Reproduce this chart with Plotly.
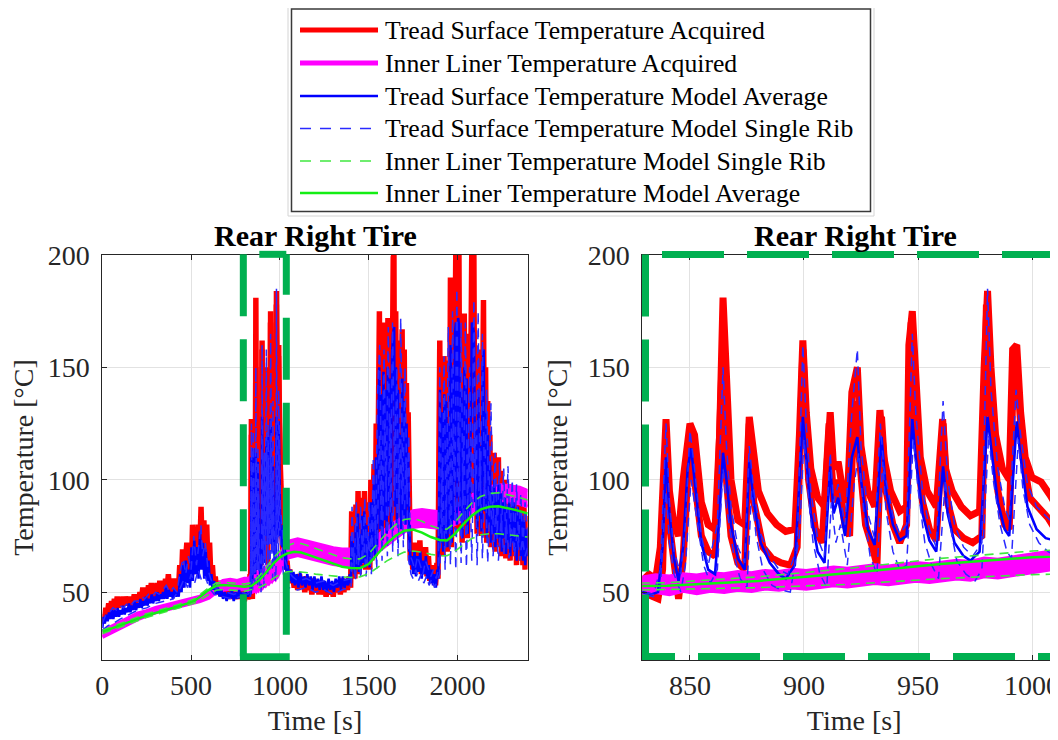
import plotly.graph_objects as go

# ---------------- data ----------------
# Tread surface temperature acquired, channel A: (time s, temperature degC)
tread_acq_a = [
    (0,36),(5,40),(12,38),(20,43),(28,40),(36,45),(44,41),(52,46),(60,42),(68,47),(76,43),(84,48),(92,43),(100,47),
    (108,44),(116,48),(124,44),(132,48),(140,45),(148,47),(156,44),(164,48),(172,45),(180,49),(188,45),(196,48),
    (204,46),(212,50),(220,46),(228,52),(236,47),(244,51),(252,47),(260,53),(268,48),(276,54),(284,49),(292,52),
    (300,48),(308,54),(316,49),(324,55),(332,50),(340,53),(348,49),(356,56),(364,51),(372,58),(380,50),(388,55),
    (396,50),(404,56),(412,51),(420,54),(428,50),(436,62),(444,52),(452,69),(460,56),(468,66),(476,72),(484,58),
    (492,68),(500,55),(508,80),(516,62),(524,75),(532,58),(540,80),(548,66),(556,88),(564,64),(572,82),(580,60),
    (588,80),(596,58),(604,72),(612,55),(620,62),(628,52),(636,57),(644,50),(652,55),
    (660,49),(670,53),(680,48),(690,54),(700,49),(710,52),(720,47),(730,53),(740,48),(750,51),(760,47),(770,52),
    (780,48),(790,50),(800,46),(810,51),(820,47),(828,50),
    (829.1,55),(832,58),(835,56),(837,70),(839.5,127),(841,95),(843,80),(845,75),(847,100),(850,125),(852,120),
    (855,90),(858,80),(861,78),(863,120),(864.5,181),(866,140),(868,100),(871,82),(874,80),(876,128),(878,110),
    (880,95),(884,85),(888,80),(892,77),(896,78),(898,120),(899.5,162),(901,130),(903,105),(906,92),(909,88),
    (911.5,130),(913,105),(915,108),(917,95),(919,90),(921,139),(923.4,150),(925,115),(928,95),(931,88),
    (933.3,131),(935,110),(938,95),(942,86),(945,88),(946,160),(947.5,175),(949,140),(951,110),(954,95),(958,88),
    (960.8,127),(962,105),(965,95),(969,88),(973,84),(977,86),(979,150),(980.5,184),(982,150),(984,120),(987,105),
    (990,100),(991.5,158),(993.3,160),(995,130),(997,110),(1000,101),(1004,99),(1008,93),(1012,86),
    (1016,82),(1020,70),(1024,76),(1028,64),(1032,70),(1036,60),(1040,64),(1048,56),(1056,60),(1064,54),(1072,58),
    (1080,52),(1090,57),(1100,51),(1110,58),(1120,52),(1130,56),(1140,50),(1150,57),(1160,51),(1170,55),(1180,49),
    (1190,56),(1200,50),(1210,54),(1220,49),(1230,55),(1240,49),(1250,53),(1260,48),(1270,54),(1280,49),(1290,53),
    (1300,48),(1310,54),(1320,50),(1330,55),(1340,49),(1350,56),(1360,50),(1370,55),(1380,51),(1390,57),(1398,52),
    (1404,86),(1410,58),(1416,80),(1422,56),(1428,89),(1434,60),(1440,95),(1446,58),(1452,84),(1458,61),(1464,92),
    (1470,62),(1476,95),(1482,60),(1488,90),(1494,63),(1500,82),(1506,60),(1512,100),(1518,64),(1524,92),(1530,107),
    (1536,66),(1542,125),(1548,70),(1554,150),(1560,175),(1566,80),(1572,160),(1578,72),(1584,170),(1590,85),
    (1596,165),(1602,75),(1608,172),(1614,90),(1620,168),(1626,78),(1632,180),(1638,199),(1642,200),(1646,90),
    (1652,175),(1658,80),(1664,162),(1670,95),(1676,140),(1682,78),(1688,167),(1694,85),(1700,158),(1706,82),
    (1712,143),(1718,90),(1722,130),(1726,70),(1730,95),(1734,64),
    (1740,70),(1748,60),(1756,72),(1764,59),(1772,70),(1780,61),(1788,73),(1796,58),(1804,68),(1812,60),(1820,70),
    (1828,57),(1836,66),(1844,55),(1852,62),(1860,54),(1868,60),(1876,53),(1884,63),(1890,56),
    (1896,120),(1900,162),(1906,70),(1912,150),(1918,66),(1924,155),(1930,72),(1936,153),(1942,68),(1948,140),
    (1954,75),(1960,190),(1966,70),(1972,175),(1978,80),(1984,195),(1990,200),(1996,78),(2002,200),(2008,200),
    (2014,85),(2020,160),(2026,72),(2032,150),(2038,174),(2044,80),(2050,165),(2056,74),(2062,130),(2068,85),
    (2074,170),(2080,200),(2086,200),(2092,200),(2098,90),(2104,140),(2110,76),(2116,158),(2122,82),(2128,130),
    (2134,75),(2140,170),(2146,180),(2152,85),(2158,150),(2164,72),(2170,135),(2176,78),(2182,120),(2188,70),
    (2194,105),(2200,75),(2206,112),(2212,68),(2218,100),(2224,72),(2230,110),(2236,70),(2242,104),(2248,66),
    (2254,98),(2260,72),(2266,100),(2272,65),(2278,96),(2284,70),(2290,98),(2296,64),(2302,95),(2308,70),
    (2314,97),(2320,66),(2326,94),(2332,62),(2338,96),(2344,68),(2350,92),(2356,64),(2362,90),(2368,62),
    (2374,88),(2380,60),(2386,84),(2392,64),(2395,78),
]

# Tread surface temperature acquired, channel B (visible in the zoom window)
tread_acq_b = [
    (815,47),(822,49),(829.1,50),(833,48),(836,47),(838,60),(839.5,120),(841,80),(843,60),(845,47),(847,65),(850,120),
    (852,100),(855,75),(858,68),(861,66),(862,90),(864,150),(866,100),(868,75),(871,63),(874,60),(876,125),(878,90),
    (882,70),(886,65),(890,63),(894,62),(897,70),(899.5,158),(902,100),(905,78),(908,72),(911,125),(913,90),
    (915,100),(918,80),(920,75),(922,135),(924,110),(927,80),(930,70),(932,62),(934,128),(936,95),(939,80),(942,72),
    (945,80),(947,170),(949,120),(952,90),(955,78),(958,73),(961,125),(963,90),(966,78),(970,74),(974,72),(978,75),
    (980,178),(982,130),(985,95),(988,80),(990,78),(992,155),(994,140),(996,110),(999,92),(1003,88),(1007,83),
    (1012,75),(1016,68),(1020,62),
]

# Tread surface temperature, model average
tread_model_avg = [
    (0,34),(6,39),(14,36),(22,40),(30,37),(38,41),(46,38),(54,42),(62,38),(70,42),(78,39),(86,43),(94,39),(102,42),
    (110,40),(118,44),(126,40),(134,43),(142,41),(150,45),(158,41),(166,44),(174,42),(182,46),(190,42),(198,45),
    (206,43),(214,47),(222,43),(230,46),(238,44),(246,48),(254,44),(262,47),(270,45),(278,49),(286,45),(294,48),
    (302,46),(310,50),(318,46),(326,49),(334,47),(342,50),(350,47),(358,52),(366,47),(374,51),(382,48),(390,50),
    (398,47),(406,51),(414,48),(422,50),(430,48),(438,58),(446,50),(454,62),(462,52),(470,64),(478,54),(486,60),
    (494,52),(502,70),(510,55),(518,73),(526,58),(534,70),(542,56),(550,77),(558,60),(566,72),(574,56),(582,69),
    (590,55),(598,64),(606,53),(614,58),(622,51),(630,55),(640,49),(650,52),
    (660,48),(670,51),(680,47),(690,50),(700,46),(710,50),(720,47),(730,51),(740,46),(750,50),(760,47),(770,51),
    (780,47),(790,50),(800,46),(810,50),(820,48),
    (829.1,50),(833,49),(836,50),(838,70),(839.5,110),(841,85),(843,65),(845,55),(847,70),(849,105),(850.5,114),
    (852,100),(855,72),(858,60),(861,58),(863,85),(864.5,112),(866,100),(868,80),(871,65),(874,60),(876,108),
    (878,90),(881,72),(885,63),(889,58),(892,56),(896,62),(898,100),(899.5,128),(901,110),(903,85),(906,68),
    (909,63),(911.5,106),(913,85),(915,92),(918,75),(921,110),(923.4,119),(925,100),(928,78),(931,71),(934,119),
    (936,95),(939,80),(942,73),(945,75),(947.5,127),(949,110),(952,85),(955,73),(958,68),(961,106),(963,85),
    (966,72),(970,66),(973,64),(977,68),(980.5,128),(982,115),(985,90),(988,78),(990,75),(993.3,126),(995,110),
    (998,88),(1002,78),(1006,74),(1010,73),(1014,70),
    (1018,80),(1022,66),(1026,74),(1030,60),(1034,68),(1038,58),(1044,62),(1052,55),(1060,60),(1068,54),(1076,59),
    (1084,53),(1094,58),(1104,52),(1114,59),(1124,53),(1134,57),(1144,52),(1154,58),(1164,53),(1174,57),(1184,51),
    (1194,57),(1204,52),(1214,56),(1224,51),(1234,57),(1244,51),(1254,55),(1264,50),(1274,56),(1284,51),(1294,55),
    (1304,50),(1314,56),(1324,52),(1334,57),(1344,51),(1354,57),(1364,52),(1374,56),(1384,53),(1394,58),(1400,54),
    (1403,75),(1409,60),(1415,72),(1421,58),(1427,80),(1433,61),(1439,85),(1445,59),(1451,76),(1457,62),(1463,84),
    (1469,63),(1475,86),(1481,61),(1487,80),(1493,64),(1499,75),(1505,61),(1511,90),(1517,65),(1523,84),(1529,98),
    (1535,66),(1541,110),(1547,70),(1553,125),(1559,150),(1565,78),(1571,138),(1577,73),(1583,148),(1589,82),
    (1595,140),(1601,76),(1607,150),(1613,88),(1619,145),(1625,78),(1631,155),(1637,165),(1643,168),(1647,88),
    (1653,150),(1659,80),(1665,140),(1671,92),(1677,120),(1683,78),(1689,145),(1695,84),(1701,135),(1707,80),
    (1713,125),(1719,88),(1723,110),(1727,68),(1731,80),(1735,62),
    (1742,66),(1750,58),(1758,68),(1766,57),(1774,66),(1782,59),(1790,68),(1798,56),(1806,64),(1814,58),(1822,66),
    (1830,56),(1838,62),(1846,54),(1854,60),(1862,53),(1870,58),(1878,52),(1886,60),(1892,56),
    (1897,110),(1901,140),(1907,72),(1913,130),(1919,68),(1925,138),(1931,74),(1937,135),(1943,70),(1949,125),
    (1955,77),(1961,160),(1967,72),(1973,150),(1979,82),(1985,165),(1991,170),(1997,80),(2003,172),(2009,168),
    (2015,86),(2021,140),(2027,74),(2033,132),(2039,150),(2045,82),(2051,145),(2057,76),(2063,115),(2069,86),
    (2075,148),(2081,170),(2087,168),(2093,165),(2099,90),(2105,122),(2111,78),(2117,140),(2123,84),(2129,115),
    (2135,77),(2141,150),(2147,158),(2153,86),(2159,130),(2165,74),(2171,120),(2177,80),(2183,108),(2189,72),
    (2195,95),(2201,76),(2207,100),(2213,70),(2219,92),(2225,74),(2231,98),(2237,72),(2243,94),(2249,68),
    (2255,90),(2261,74),(2267,92),(2273,67),(2279,88),(2285,72),(2291,90),(2297,66),(2303,88),(2309,72),
    (2315,90),(2321,68),(2327,86),(2333,64),(2339,88),(2345,70),(2351,85),(2357,66),(2363,84),(2369,64),
    (2375,82),(2381,62),(2387,78),(2393,66),(2395,72),
]

# Tread surface temperature, model single rib (hotter rib)
tread_model_rib_hi = [
    (0,36),(20,40),(40,41),(60,43),(80,42),(100,44),(120,43),(140,45),(160,44),(180,46),(200,46),(220,48),(240,47),
    (260,49),(280,48),(300,50),(320,49),(340,51),(360,53),(380,50),(400,52),(420,50),(440,60),(455,65),(470,58),
    (485,66),(500,60),(515,75),(530,62),(545,72),(555,80),(565,66),(580,72),(595,60),(610,56),(630,52),(660,51),
    (700,50),(740,49),(780,50),(820,49),
    (829.1,50),(834,49),(837,60),(839.5,125),(841,90),(843,68),(846,58),(848,80),(850,122),(852,105),(855,75),
    (858,62),(862,80),(864.5,150),(866,115),(868,88),(871,70),(874,63),(876,115),(878,95),(881,76),(885,66),
    (889,60),(893,58),(897,70),(899.5,160),(901,125),(903,95),(906,74),(909,66),(911.5,112),(913,90),(915,98),
    (918,80),(921,130),(923.4,158),(925,115),(928,85),(931,74),(933.5,125),(935,105),(939,84),(942,76),(945,80),
    (947.5,165),(949,130),(952,95),(955,78),(958,70),(961,135),(963,100),(966,80),(970,70),(974,66),(978,72),
    (980.5,185),(982,140),(985,105),(988,88),(990,82),(993,140),(995,120),(998,98),(1002,88),(1006,84),(1010,80),
    (1014,76),(1020,72),(1030,64),(1045,60),(1070,57),(1100,55),(1150,56),(1200,54),(1250,55),(1300,53),(1350,55),
    (1400,56),
    (1406,88),(1418,60),(1430,90),(1442,62),(1454,88),(1466,64),(1478,92),(1490,62),(1502,90),(1514,66),(1526,110),
    (1538,70),(1550,140),(1562,160),(1574,82),(1586,158),(1598,90),(1610,168),(1622,85),(1634,170),(1646,95),
    (1658,150),(1670,85),(1680,172),(1692,90),(1704,150),(1716,92),(1726,120),(1734,66),
    (1745,64),(1760,60),(1775,66),(1790,62),(1805,58),(1820,64),(1835,60),(1850,57),(1865,60),(1880,56),(1892,60),
    (1900,150),(1912,72),(1924,155),(1936,76),(1948,168),(1960,80),(1972,175),(1984,82),(1996,185),(2008,88),
    (2020,170),(2032,78),(2044,170),(2056,86),(2068,150),(2080,90),(2092,180),(2104,84),(2116,175),(2128,88),
    (2140,165),(2152,92),(2164,140),(2176,84),(2188,134),(2200,80),(2212,112),(2224,76),(2236,108),(2248,78),
    (2260,105),(2272,72),(2284,106),(2296,74),(2308,100),(2320,70),(2332,98),(2344,72),(2356,94),(2368,70),
    (2380,90),(2395,76),
]

# Tread surface temperature, model single rib (cooler rib)
tread_model_rib_lo = [
    (0,33),(30,35),(60,36),(100,38),(150,40),(200,42),(250,43),(300,45),(350,46),(400,47),(440,52),(460,56),
    (480,52),(500,58),(520,54),(540,60),(560,55),(580,57),(600,52),(630,49),(680,48),(730,47),(780,48),(820,48),
    (829.1,49),(834,48),(837,52),(839.5,95),(841,72),(843,58),(846,50),(848,62),(850.5,100),(853,82),(856,62),
    (859,54),(862,60),(864.5,105),(866,88),(869,68),(872,56),(875,52),(877,95),(879,75),(882,60),(886,53),(890,51),
    (894,50),(898,75),(900,118),(902,92),(904,72),(907,58),(910,52),(912,90),(914,72),(916,80),(919,62),(922,98),
    (924,112),(926,88),(929,66),(932,58),(934.5,108),(936,86),(939,68),(942,60),(945,62),(948,118),(950,96),
    (953,72),(956,62),(959,56),(962,100),(964,80),(967,64),(971,58),(975,55),(978,60),(981,120),(983,100),(986,80),
    (989,68),(991,65),(994,118),(996,96),(999,80),(1003,72),(1007,68),(1011,66),(1015,64),
    (1020,58),(1035,54),(1050,52),(1100,51),(1150,52),(1200,50),(1250,51),(1300,49),(1350,51),(1400,52),
    (1410,70),(1425,55),(1440,75),(1455,56),(1470,78),(1485,57),(1500,74),(1515,58),(1530,95),(1545,60),(1560,120),
    (1575,64),(1590,125),(1605,66),(1620,128),(1635,68),(1650,130),(1665,66),(1680,118),(1695,70),(1710,110),
    (1725,64),(1738,58),
    (1750,56),(1765,60),(1780,55),(1795,58),(1810,54),(1825,57),(1840,53),(1855,56),(1870,52),(1885,55),
    (1900,58),(1915,110),(1930,60),(1945,118),(1960,62),(1975,125),(1990,60),(2005,130),(2020,63),(2035,120),
    (2050,61),(2065,115),(2080,64),(2095,125),(2110,62),(2125,112),(2140,65),(2155,105),(2170,63),(2185,95),
    (2200,66),(2215,85),(2230,64),(2245,82),(2260,67),(2275,80),(2290,65),(2305,78),(2320,66),(2335,76),
    (2350,64),(2365,74),(2380,66),(2395,70),
]

# Inner liner temperature acquired: (time s, lower edge, upper edge of the sensor band)
liner_acquired = [
    (0,30,32.5),(50,32,34.5),(100,34,36.5),(150,36,38.5),(200,38,40.5),(250,39.5,41.5),(300,41,43),(350,42,44),
    (400,43,45),(450,44,46),(500,45,47),(550,46,48),(600,47.5,50),(640,50,53),(680,51,55),(720,51.5,55.5),
    (760,51,55),(800,51.5,56),(829,50,56),(835,50.5,57),(841,49.5,56.5),(847,51,57.5),(853,50,57),(859,51,58),
    (865,50.5,57.5),(871,51.5,58.5),(877,51,58),(883,52,59),(889,51.5,58.5),(895,52.5,59.5),(901,52,59),
    (907,53,60),(913,53.5,60.5),(919,53,60),(925,54,61),(931,54.5,61.5),(937,54,61),(943,55,62),(949,55.5,62.5),
    (955,55,62),(961,56,63),(967,56.5,63.5),(973,56,63),(979,57.5,64.5),(985,57,64),(991,58,65),(997,59,66),
    (1003,59.5,66.5),(1009,61,68),(1015,62,69),(1030,64,71),(1050,65.5,72.5),(1075,66,73),(1100,66.5,73.5),
    (1150,65.5,72.5),(1200,64.5,71.5),(1250,63.5,70.5),(1300,62.5,69.5),(1350,62,69),(1400,62,69),(1450,63,70),
    (1500,65,72),(1550,68,75),(1600,71,78),(1650,74,81),(1700,77,84),(1750,79,86),(1800,79.5,86.5),(1850,79,86),
    (1900,78.5,85.5),(1950,79,86),(2000,81,88),(2050,84,91),(2100,87,94),(2150,89,96),(2200,90,97),
    (2250,90.5,97.5),(2300,90,97),(2350,89.5,96.5),(2395,88,95),
]

# Inner liner temperature model: (time s, average, single rib upper, single rib lower)
liner_model = [
    (0,32.3,33,31.5),(60,34,34.8,33.2),(120,36,36.8,35.2),(180,37.7,38.5,36.9),(240,39.3,40.1,38.5),
    (300,40.7,41.5,39.9),(360,42,42.8,41.2),(420,43.5,44.3,42.7),(480,45,45.8,44.2),(520,46.2,47,45.2),
    (560,48.5,49.5,47),(600,51,52,49),(640,52.8,54,50.8),(680,53.2,54.4,51.2),(720,53,54.2,51),(760,52.6,53.8,50.6),
    (800,52.4,53.6,50.4),(840,52.8,54.2,51.2),(880,55,56.8,52),(920,58.5,60.6,53.5),(960,62.5,65,56),
    (1000,65.5,68.3,57.8),(1040,67.2,70.6,59),(1080,68,71.8,59.3),(1120,67.6,71.6,59),(1160,66.6,70.6,58.6),
    (1200,65.5,69.5,58),(1250,64,68,57.5),(1300,62.5,66.5,57),(1350,61.3,65.3,56.8),(1400,60.7,64.8,56.5),
    (1450,60.6,64.8,56.8),(1500,62.5,67,58.2),(1550,67,71.6,61),(1600,71.5,76.3,63.8),(1650,75,80,66),
    (1700,77.3,82.3,67.8),(1750,77.8,82.8,68.3),(1800,76.5,81.5,67.8),(1850,74.5,79.5,66.8),(1900,73.2,78.2,66.2),
    (1940,73,78,66.2),(1980,75.5,80.5,67.8),(2030,80,85.3,71),(2080,84,89.6,73.8),(2130,86.8,92.6,75.5),
    (2180,88,93.9,76),(2230,88.2,94.2,76),(2280,87.5,93.5,75.5),(2330,86.5,92.5,75),(2395,85,91,74.5),
]

left_x_ticks = [0, 500, 1000, 1500, 2000]
right_x_ticks = [850, 900, 950, 1000]
y_ticks = [50, 100, 150, 200]
left_x_range = [0, 2395]
right_x_range = [829.1, 1014.9]
y_range = [19.8, 200]
zoom_box = [794, 1036, 21.2, 200.3]   # highlighted window on the overview: t0, t1, T0, T1

legend_labels = [
    "Tread Surface Temperature Acquired",
    "Inner Liner Temperature Acquired",
    "Tread Surface Temperature Model Average",
    "Tread Surface Temperature Model Single Rib",
    "Inner Liner Temperature Model Single Rib",
    "Inner Liner Temperature Model Average",
]

# ---------------- styling ----------------
W, H = 1058, 740
OFF = 8          # page offset of the figure inside the browser window
FONT = "Liberation Serif"
RED, MAG, BLUE, BLUE_D, GREEN, GREEN_D = "#ff0000", "#ff00ff", "#0000ff", "#2a2aff", "#14ee14", "#40e840"
BOX_GREEN = "#00b050"
AX = "#262626"
GRID = "#e2e2e2"

def cols(pairs, i):
    return [p[i] for p in pairs]

fig = go.Figure()

styles = {
    "left":  dict(xa="x", ya="y", red=5.5, mag=4, bavg=2.6, brib=1.5, gavg=2.5, grib=1.6),
    "right": dict(xa="x2", ya="y2", red=7, mag=6, bavg=2.6, brib=1.5, gavg=2.5, grib=1.6),
}

for key, s in styles.items():
    xa, ya = s["xa"], s["ya"]
    def add(pairs, color, width, dash="solid", name=None, **kw):
        fig.add_trace(go.Scatter(x=cols(pairs, 0), y=cols(pairs, 1), mode="lines", xaxis=xa, yaxis=ya,
                                 line=dict(color=color, width=width, dash=dash), name=name,
                                 hoverinfo="skip", showlegend=False, **kw))
    add(tread_acq_a, RED, s["red"], name=legend_labels[0])
    add(tread_acq_b, RED, s["red"], name=legend_labels[0])
    fig.add_trace(go.Scatter(x=cols(liner_acquired, 0), y=cols(liner_acquired, 1), mode="lines",
                             xaxis=xa, yaxis=ya, line=dict(color=MAG, width=s["mag"]),
                             hoverinfo="skip", showlegend=False))
    fig.add_trace(go.Scatter(x=cols(liner_acquired, 0), y=cols(liner_acquired, 2), mode="lines",
                             xaxis=xa, yaxis=ya, line=dict(color=MAG, width=s["mag"]), fill="tonexty",
                             fillcolor=MAG, name=legend_labels[1], hoverinfo="skip", showlegend=False))
    add(tread_model_avg, BLUE, s["bavg"], name=legend_labels[2])
    add(tread_model_rib_hi, BLUE_D, s["brib"], dash="9px,6px", name=legend_labels[3])
    add(tread_model_rib_lo, BLUE_D, s["brib"], dash="9px,6px", name=legend_labels[3])
    add([(r[0], r[2]) for r in liner_model], GREEN_D, s["grib"], dash="9px,6px", name=legend_labels[4])
    add([(r[0], r[3]) for r in liner_model], GREEN_D, s["grib"], dash="9px,6px", name=legend_labels[4])
    add([(r[0], r[1]) for r in liner_model], GREEN, s["gavg"], name=legend_labels[5])

# ---------------- axes (positions given in window pixels) ----------------
plot_top_px, plot_bot_px = 255, 660
left_l_px, left_r_px = 102.3, 527.7
right_l_px, right_r_px = 642.3, W + OFF
px_x = lambda v: (v - OFF) / W
px_y = lambda v: 1 - (v - OFF) / H
ydom = [px_y(plot_bot_px), px_y(plot_top_px)]

common = dict(showline=True, linecolor=AX, linewidth=1, ticks="inside", ticklen=5, tickcolor=AX,
              showgrid=True, gridcolor=GRID, gridwidth=1, zeroline=False, automargin=False,
              tickfont=dict(family=FONT, size=28, color=AX))
xt = lambda: dict(text="Time [s]", font=dict(family=FONT, size=28, color=AX), standoff=10)
yt = lambda: dict(text="Temperature [°C]", font=dict(family=FONT, size=28, color=AX), standoff=11)
fig.update_layout(
    width=W, height=H, margin=dict(l=0, r=0, t=0, b=0, autoexpand=False),
    paper_bgcolor="white", plot_bgcolor="white", showlegend=False,
    font=dict(family=FONT, color=AX),
    xaxis=dict(domain=[px_x(left_l_px), px_x(left_r_px)], range=left_x_range, tickvals=left_x_ticks,
               anchor="y", mirror="ticks", title=xt(), **common),
    yaxis=dict(domain=ydom, range=y_range, tickvals=y_ticks, anchor="x", mirror="ticks", title=yt(),
               ticklabelstandoff=6, **common),
    xaxis2=dict(domain=[px_x(right_l_px), 1.0], range=right_x_range, tickvals=right_x_ticks,
                anchor="y2", mirror="ticks", title=xt(), **common),
    yaxis2=dict(domain=ydom, range=y_range, tickvals=y_ticks, anchor="x2", mirror=False, title=yt(),
                ticklabelstandoff=6, **common),
)

# titles
for cx in [(left_l_px + left_r_px) / 2, 855]:
    fig.add_annotation(text="<b>Rear Right Tire</b>", x=px_x(cx), y=px_y(236), xref="paper", yref="paper",
                       showarrow=False, xanchor="center", yanchor="middle",
                       font=dict(family=FONT, size=30, color="black"))

shapes = []
# green dashed window on the overview (axis-domain fractions, so it is not clipped)
t0, t1, T0, T1 = zoom_box
fx = lambda t: (t - left_x_range[0]) / (left_x_range[1] - left_x_range[0])
fy = lambda T: (T - y_range[0]) / (y_range[1] - y_range[0])
gl = dict(color=BOX_GREEN, width=7)
shapes.append(dict(type="line", xref="x domain", yref="y domain", x0=fx(t0), x1=fx(t0), y0=fy(T1), y1=fy(T0),
                   line=dict(gl, dash="62px,23px")))
shapes.append(dict(type="line", xref="x domain", yref="y domain", x0=fx(t1), x1=fx(t1), y0=fy(T0), y1=fy(T1),
                   line=dict(gl, dash="0px,22px,62px,1px")))
shapes.append(dict(type="line", xref="x domain", yref="y domain", x0=fx(t1), x1=fx(t0), y0=fy(T1), y1=fy(T1),
                   line=dict(gl, dash="27px,100px")))
shapes.append(dict(type="line", xref="x domain", yref="y domain", x0=fx(t0) - 0.008, x1=fx(t1) + 0.008,
                   y0=fy(T0), y1=fy(T0), line=gl))

# green dashed frame around the zoomed plot
rx = lambda px: (px - right_l_px) / (right_r_px - right_l_px)
ry = lambda py: (plot_bot_px - py) / (plot_bot_px - plot_top_px)
shapes.append(dict(type="line", xref="x2 domain", yref="y2 domain", x0=rx(645.5), x1=rx(645.5), y0=ry(254.5),
                   y1=ry(657), line=dict(gl, dash="62px,23px")))
shapes.append(dict(type="line", xref="x2 domain", yref="y2 domain", x0=rx(1149), x1=rx(642), y0=ry(254.5),
                   y1=ry(254.5), line=dict(gl, dash="62px,23px")))
shapes.append(dict(type="line", xref="x2 domain", yref="y2 domain", x0=rx(1100), x1=rx(642), y0=ry(656.5),
                   y1=ry(656.5), line=dict(gl, dash="62px,23px")))

# legend (framed box with line samples)
shapes.append(dict(type="rect", xref="paper", yref="paper", x0=px_x(288), x1=px_x(874), y0=px_y(6), y1=px_y(216),
                   line=dict(color="#d4d4d4", width=1), fillcolor="white", layer="above"))
shapes.append(dict(type="rect", xref="paper", yref="paper", x0=px_x(291.5), x1=px_x(870.5), y0=px_y(9),
                   y1=px_y(211.5), line=dict(color="#3a3a3a", width=1.5), fillcolor="white", layer="above"))
legend_styles = [(RED, 5, "solid"), (MAG, 5, "solid"), (BLUE, 2.5, "solid"),
                 (BLUE_D, 1.6, "11px,9px"), (GREEN_D, 1.6, "11px,9px"), (GREEN, 2.5, "solid")]
row_y = [30, 63, 96, 128.5, 161, 193]
for (c, w, d), yy, lab in zip(legend_styles, row_y, legend_labels):
    shapes.append(dict(type="line", xref="paper", yref="paper", x0=px_x(300), x1=px_x(378), y0=px_y(yy),
                       y1=px_y(yy), line=dict(color=c, width=w, dash=d), layer="above"))
    fig.add_annotation(text=lab, x=px_x(383), y=px_y(yy), xref="paper", yref="paper", showarrow=False,
                       xanchor="left", yanchor="middle", font=dict(family=FONT, size=25.7, color="black"))

fig.update_layout(shapes=shapes)
fig.write_html("out.html")
